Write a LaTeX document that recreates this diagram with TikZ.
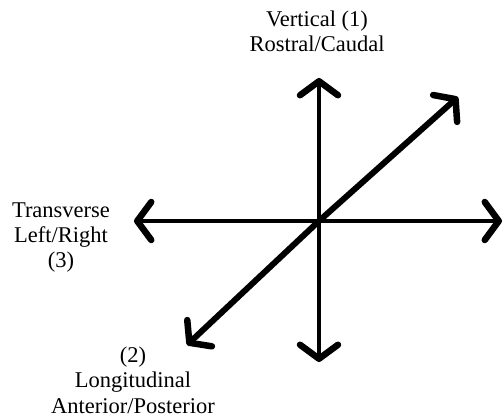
\documentclass[tikz,border=0pt]{standalone}
\usepackage{fontspec}
\setmainfont{Liberation Serif}
\usetikzlibrary{arrows.meta}
\begin{document}
\begin{tikzpicture}[x=1pt,y=1pt,
  axis/.style={line width=4pt,
    -{Straight Barb[length=14pt,width=38pt,line width=6.5pt,round]}},
  daxis/.style={line width=6pt,
    -{Straight Barb[length=14pt,width=36pt,line width=6.5pt,round]}},
  lbl/.style={align=center,inner sep=0pt,anchor=base,
    font=\fontsize{22.5}{25.5}\selectfont}]
\useasboundingbox (0,0) rectangle (504,-417);
\coordinate (c) at (319,-221);
\coordinate (top) at (319,-78);
\coordinate (bot) at (319,-362);
\coordinate (lft) at (134,-221);
\coordinate (rgt) at (502,-221);
\coordinate (ur) at (458,-97);
\coordinate (ll) at (187,-345);
\draw[axis] (c) -- (top);
\draw[axis] (c) -- (bot);
\draw[axis] (c) -- (lft);
\draw[axis] (c) -- (rgt);
\draw[daxis] (c) -- (ur);
\draw[daxis] (c) -- (ll);
\node[lbl] (vlab) at (317,-52) {Vertical (1)\\Rostral/Caudal};
\node[lbl] (tlab) at (61,-268) {Transverse\\Left/Right\\(3)};
\node[lbl] (llab) at (133,-413) {(2)\\Longitudinal\\Anterior/Posterior};
\end{tikzpicture}
\end{document}
